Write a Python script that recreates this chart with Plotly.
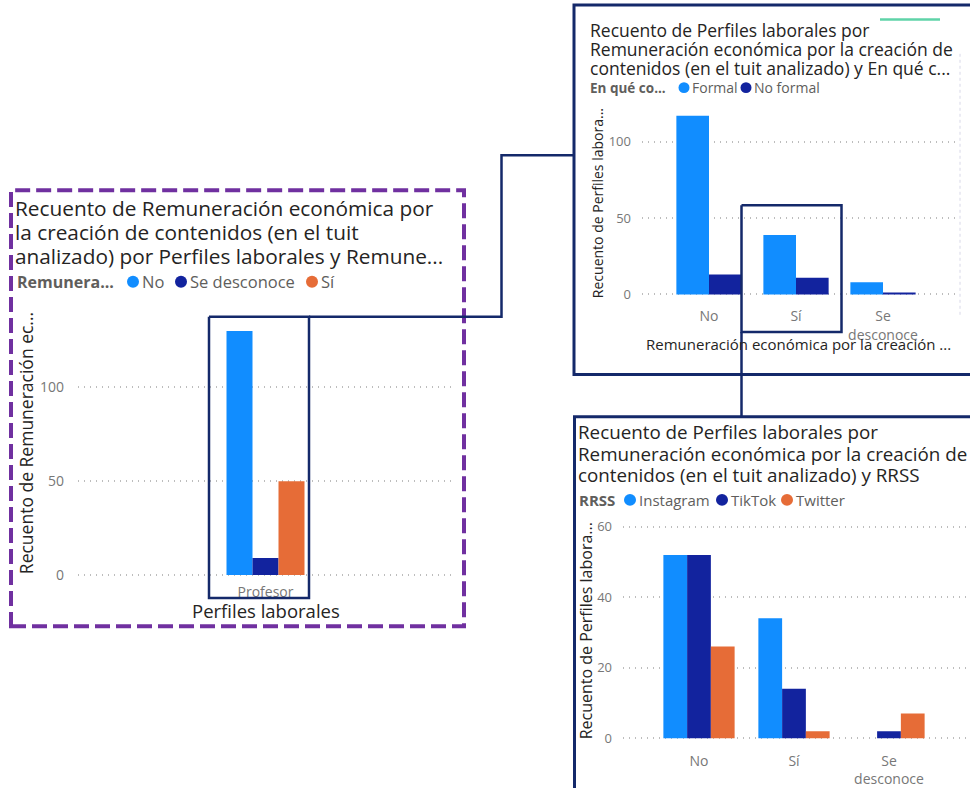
import plotly.graph_objects as go

W, H = 970, 788

# ---- data ----
c1_categories = ["Profesor"]
c1_series = ["No", "Se desconoce", "Sí"]
c1_values = {"No": [130], "Se desconoce": [9], "Sí": [50]}

c2_categories = ["No", "Sí", "Se<br>desconoce"]
c2_series = ["Formal", "No formal"]
c2_values = {"Formal": [117, 39, 8], "No formal": [13, 11, 1]}

c3_categories = ["No", "Sí", "Se<br>desconoce"]
c3_series = ["Instagram", "TikTok", "Twitter"]
c3_values = {"Instagram": [52, 34, 0], "TikTok": [52, 14, 2], "Twitter": [26, 2, 7]}

c1_ticks = [0, 50, 100]
c2_ticks = [0, 50, 100]
c3_ticks = [0, 20, 40, 60]

PALETTE = ["#118DFF", "#12239E", "#E66C37"]
NAVY = "#14296A"
PURPLE = "#7030A0"
TITLE_FONT = "Open Sans"
BODY_FONT = "Open Sans"
DARK = "#252423"
GREY = "#605E5C"
TICK = "#777777"
GRID = "#BDBDBD"

# vertical layout calibration (page pixels -> paper)
SY, OY = 0.980, 2.0


def fx(px):
    return px / W


def fy(py):
    return 1 - ((py - OY) / SY) / H


fig = go.Figure()

charts = [
    ("x", "y", c1_categories, c1_series, c1_values),
    ("x2", "y2", c2_categories, c2_series, c2_values),
    ("x3", "y3", c3_categories, c3_series, c3_values),
]
for xa, ya, cats, series, vals in charts:
    for i, s in enumerate(series):
        fig.add_trace(go.Bar(
            x=cats, y=vals[s], name=s, xaxis=xa, yaxis=ya,
            marker=dict(color=PALETTE[i], line=dict(width=0)),
            showlegend=False,
        ))


def yax(zero_px, top_px, scale, ticks, anchor, standoff, size):
    # a couple of pixels below zero so the baseline gridline is drawn
    bottom_px = zero_px + 2
    return dict(
        domain=[fy(bottom_px), fy(top_px)],
        range=[-2 / scale, (zero_px - top_px) / scale],
        anchor=anchor,
        tickvals=ticks, showgrid=True, gridcolor=GRID, griddash="1px,5px",
        gridwidth=1.5, zeroline=False, showline=False, ticks="",
        ticklabelstandoff=standoff,
        tickfont=dict(family=BODY_FONT, size=size, color=TICK),
        fixedrange=True,
    )


def xax(domain_px, rng, anchor, standoff, size):
    return dict(
        domain=[fx(domain_px[0]), fx(domain_px[1])], range=rng,
        anchor=anchor, showgrid=False, zeroline=False, showline=False,
        ticks="", ticklabelstandoff=standoff,
        tickfont=dict(family=BODY_FONT, size=size, color=TICK),
        fixedrange=True,
    )


fig.update_layout(
    width=W, height=H, margin=dict(l=0, r=0, t=0, b=0),
    paper_bgcolor="white", plot_bgcolor="rgba(0,0,0,0)",
    barmode="group", bargap=0.25, bargroupgap=0,
    showlegend=False,
    xaxis=xax((78, 453), [-1.803, 1.803], "y", 5, 14),
    yaxis=yax(578.3, 310, 1.883, c1_ticks, "x", 13, 14),
    xaxis2=xax((642, 958), [(642 - 709) / 87, (958 - 709) / 87], "y2", 10, 14),
    yaxis2=yax(296.7, 110, 1.533, c2_ticks, "x2", 10, 13),
    xaxis3=xax((623, 970), [(623 - 699) / 95, (970 - 699) / 95], "y3", 11, 14),
    yaxis3=yax(742.3, 522, 3.54, c3_ticks, "x3", 10, 13),
)

ann = []


def txt(x, y, s, size, color=DARK, bold=False, anchor="left", angle=0, family=TITLE_FONT):
    if bold:
        s = "<b>" + s + "</b>"
    ann.append(dict(
        x=fx(x), y=fy(y), xref="paper", yref="paper", text=s, showarrow=False,
        xanchor=anchor, yanchor="middle", textangle=angle,
        font=dict(family=family, size=size, color=color),
    ))


shapes = []


def dot(cx, cy, color, r=5.5):
    shapes.append(dict(type="circle", xref="paper", yref="paper",
                       x0=fx(cx - r), x1=fx(cx + r), y0=fy(cy + r), y1=fy(cy - r),
                       fillcolor=color, line=dict(width=0)))


def line(pts, color=NAVY, width=2.5, dash=None):
    path = "M " + " L ".join(f"{fx(a)},{fy(b)}" for a, b in pts)
    ln = dict(color=color, width=width)
    if dash:
        ln["dash"] = dash
    shapes.append(dict(type="path", xref="paper", yref="paper", path=path, line=ln))


# ---- chart 1 (left) ----
c1_title = ["Recuento de Remuneración económica por",
            "la creación de contenidos (en el tuit",
            "analizado) por Perfiles laborales y Remune..."]
for i, t in enumerate(c1_title):
    txt(13, 210 + i * 24, t, 20.8)
txt(15, 284, "Remunera...", 16, GREY, bold=True)
for (cx, s), col in zip([(133, "No"), (181, "Se desconoce"), (312, "Sí")], PALETTE):
    dot(cx, 284, col, 6)
    txt(cx + 7, 284, s, 16.5, GREY)
txt(26, 446, "Recuento de Remuneración ec...", 17.5, DARK, angle=-90, anchor="center")
txt(266, 614, "Perfiles laborales", 18.5, DARK, anchor="center")

# ---- chart 2 (top right) ----
c2_title = ["Recuento de Perfiles laborales por",
            "Remuneración económica por la creación de",
            "contenidos (en el tuit analizado) y En qué c..."]
for i, t in enumerate(c2_title):
    txt(588, 31 + i * 19, t, 17.5)
txt(588, 89, "En qué co...", 13.5, GREY, bold=True)
for (cx, s), col in zip([(684, "Formal"), (746, "No formal")], PALETTE):
    dot(cx, 89, col, 5.5)
    txt(cx + 6, 89, s, 14, GREY)
txt(597, 205, "Recuento de Perfiles labora...", 14, DARK, angle=-90, anchor="center")
txt(798, 346, "Remuneración económica por la creación ...", 15, DARK, anchor="center")

# ---- chart 3 (bottom right) ----
c3_title = ["Recuento de Perfiles laborales por",
            "Remuneración económica por la creación de",
            "contenidos (en el tuit analizado) y RRSS"]
for i, t in enumerate(c3_title):
    txt(576, 435 + i * 21.5, t, 18.8)
txt(577, 503, "RRSS", 15, GREY, bold=True)
for (cx, s), col in zip([(630, "Instagram"), (722, "TikTok"), (787, "Twitter")], PALETTE):
    dot(cx, 503, col, 6)
    txt(cx + 7, 503, s, 15, GREY)
txt(586, 635, "Recuento de Perfiles labora...", 16, DARK, angle=-90, anchor="center")

# ---- frames and connectors ----
shapes.append(dict(type="rect", xref="paper", yref="paper",
                   x0=fx(11), x1=fx(464), y0=fy(630), y1=fy(192),
                   line=dict(color=PURPLE, width=4, dash="15px,6px")))
# chart frames (cut at the right/bottom edges)
line([(980, 6), (574, 6), (574, 377), (980, 377)], width=3)
line([(980, 419.5), (574.5, 419.5), (574.5, 800)], width=3)
# highlight boxes
line([(209, 319), (309, 319), (309, 601.5), (209, 601.5), (209, 319)], width=2.5)
line([(741.5, 207), (841.5, 207), (841.5, 334.5), (741.5, 334.5), (741.5, 207)], width=2.5)
# connectors
line([(309, 319), (501.5, 319), (501.5, 157), (574, 157)], width=2.5)
line([(741.5, 334.5), (741.5, 419.5)], width=2.5)

# clipped visuals peeking at the top/right of chart 2
line([(880, 20.5), (940, 20.5)], color="#5FD3A8", width=2.5)
line([(960, 55), (960, 320)], color="#D8D8E8", width=1, dash="dot")

fig.update_layout(annotations=ann, shapes=shapes)
fig.write_html("out.html")
